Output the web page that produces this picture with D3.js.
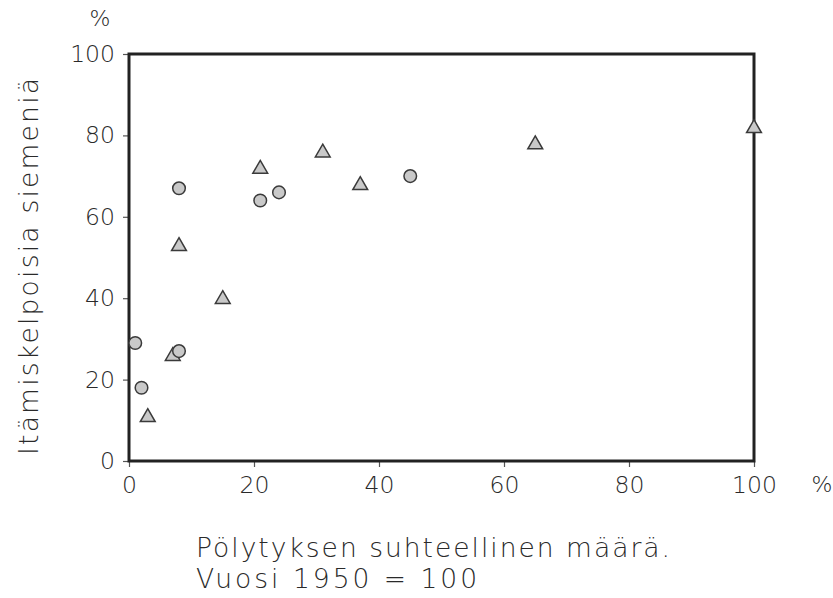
<!DOCTYPE html>
<html>
<head>
<meta charset="utf-8">
<script src="https://cdn.jsdelivr.net/npm/d3@7"></script>
<style>
  html, body { margin: 0; padding: 0; background: #fff; }
  svg text { font-family: "DejaVu Sans ExtraLight", "DejaVu Sans", sans-serif; font-weight: 200; fill: #2a2a2a; }
</style>
</head>
<body>
<svg id="chart" width="833" height="598"></svg>
<script>
// Pollination share (x, %) vs. germinable seeds (y, %)
const circleX = [1, 2, 8, 8, 21, 24, 45];
const circleY = [29, 18, 27, 67, 64, 66, 70];
const triangleX = [3, 7, 8, 15, 21, 31, 37, 65, 100];
const triangleY = [11, 26, 53, 40, 72, 76, 68, 78, 82];
const xTicks = [0, 20, 40, 60, 80, 100];
const yTicks = [0, 20, 40, 60, 80, 100];
const yTitle = "Itämiskelpoisia siemeniä";
const xTitleLines = ["Pölytyksen suhteellinen määrä.", "Vuosi 1950 = 100"];

const svg = d3.select("#chart");
const plot = { left: 129, right: 754, top: 54, bottom: 461 };
const fontFamily = "'DejaVu Sans ExtraLight', 'DejaVu Sans', sans-serif";

const x = d3.scaleLinear().domain([0, 100]).range([plot.left, plot.right]);
const y = d3.scaleLinear().domain([0, 100]).range([plot.bottom, plot.top]);

// axes (thin ticks outside the frame)
const xAxis = d3.axisBottom(x).tickValues(xTicks).tickSize(6).tickPadding(8);
const yAxis = d3.axisLeft(y).tickValues(yTicks).tickSize(6).tickPadding(8);

const gx = svg.append("g").attr("transform", `translate(0,${plot.bottom})`).call(xAxis);
const gy = svg.append("g").attr("transform", `translate(${plot.left},0)`).call(yAxis);
[gx, gy].forEach(g => {
  g.select(".domain").remove();
  g.selectAll(".tick line").attr("stroke", "#555").attr("stroke-width", 1.2);
  g.selectAll(".tick text").attr("font-size", 23.5).attr("fill", "#2a2a2a")
    .style("font-family", fontFamily).style("font-weight", 200);
});
gx.selectAll(".tick text").attr("y", 32).attr("dy", 0);

// frame
svg.append("rect")
  .attr("x", plot.left).attr("y", plot.top)
  .attr("width", plot.right - plot.left).attr("height", plot.bottom - plot.top)
  .attr("fill", "none").attr("stroke", "#222").attr("stroke-width", 3);

// unit labels
svg.append("text").attr("x", 100).attr("y", 26).attr("font-size", 22)
  .attr("text-anchor", "middle").text("%");
svg.append("text").attr("x", 822).attr("y", 492).attr("font-size", 22)
  .attr("text-anchor", "middle").text("%");

// axis titles
svg.append("text")
  .attr("transform", `translate(38,455) rotate(-90)`)
  .attr("font-size", 26.5)
  .attr("textLength", 377).attr("lengthAdjust", "spacing")
  .text(yTitle);

svg.append("text").attr("x", 196).attr("y", 557).attr("font-size", 26.5)
  .attr("textLength", 474).attr("lengthAdjust", "spacing")
  .text(xTitleLines[0]);
svg.append("text").attr("x", 196).attr("y", 588).attr("font-size", 26.5)
  .attr("textLength", 281).attr("lengthAdjust", "spacing")
  .text(xTitleLines[1]);

// markers
const markFill = "#c9c9c9", markStroke = "#3a3a3a";

const circles = circleX.map((v, i) => ({ x: v, y: circleY[i] }));
const triangles = triangleX.map((v, i) => ({ x: v, y: triangleY[i] }));

const tri = d3.symbol().type(d3.symbolTriangle).size(95);
svg.append("g").selectAll("path").data(triangles).join("path")
  .attr("d", tri)
  .attr("transform", d => `translate(${x(d.x)},${y(d.y) + 1})`)
  .attr("fill", markFill).attr("stroke", markStroke).attr("stroke-width", 1.5);

svg.append("g").selectAll("circle").data(circles).join("circle")
  .attr("cx", d => x(d.x)).attr("cy", d => y(d.y)).attr("r", 6.3)
  .attr("fill", markFill).attr("stroke", markStroke).attr("stroke-width", 1.5);
</script>
</body>
</html>
